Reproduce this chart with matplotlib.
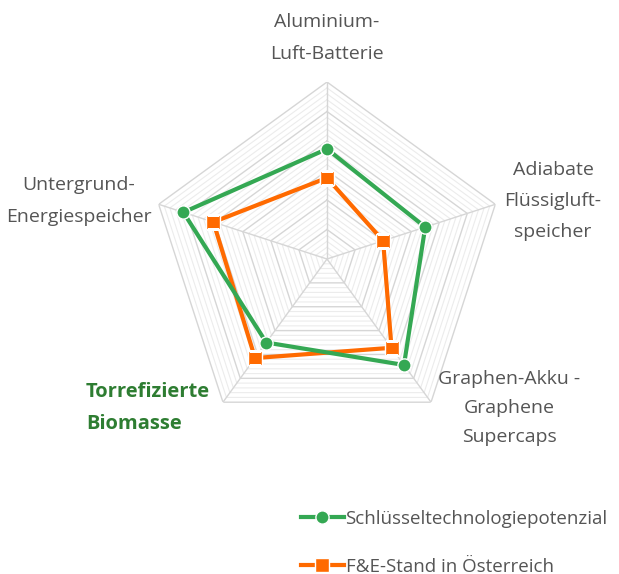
import numpy as np
import matplotlib.pyplot as plt

plt.rcParams["font.family"] = ["Open Sans", "DejaVu Sans"]

# axes, clockwise from the top
categories = [
    "Aluminium-\nLuft-Batterie",
    "Adiabate\nFlüssigluft-\nspeicher",
    "Graphen-Akku -\nGraphene\nSupercaps",
    "Torrefizierte\nBiomasse",
    "Untergrund-\nEnergiespeicher",
]
series_names = ["Schlüsseltechnologiepotenzial", "F&E-Stand in Österreich"]
potential = [3.73, 3.5, 4.44, 3.5, 5.12]
fe_stand = [2.75, 2.0, 3.72, 4.15, 4.05]
r_max = 6

GREEN = "#34a853"
ORANGE = "#ff6a00"
GREY_TXT = "#555555"

W, H = 619, 574
fig = plt.figure(figsize=(W / 100, H / 100), dpi=100)

# radar centre (327, 259) px, radius 177 px
cx, cy, rad = 327, 259, 177
ax = fig.add_axes([(cx - rad) / W, 1 - (cy + rad) / H, 2 * rad / W, 2 * rad / H],
                  projection="polar")
ax.set_theta_zero_location("N")
ax.set_theta_direction(-1)
ax.set_ylim(0, r_max)
ax.grid(False)
ax.spines["polar"].set_visible(False)
ax.set_xticks([])
ax.set_yticks([])
ax.patch.set_alpha(0)

n = len(categories)
angles = np.linspace(0, 2 * np.pi, n, endpoint=False)
closed = np.append(angles, angles[0])

# minor + major pentagon rings
for r in np.arange(0.2, r_max + 0.01, 0.2):
    major = abs(r - round(r)) < 1e-6
    ax.plot(closed, [r] * (n + 1),
            color="#d6d6d6" if major else "#ececec",
            lw=1.0 if major else 0.8, zorder=1)
for a in angles:
    ax.plot([a, a], [0, r_max], color="#d6d6d6", lw=1.0, zorder=1)

ax.plot(closed, potential + potential[:1], color=GREEN, lw=3, marker="o",
        ms=9.5, mec="white", mew=1, zorder=4, label=series_names[0])
ax.plot(closed, fe_stand + fe_stand[:1], color=ORANGE, lw=3, marker="s",
        ms=10, mec="white", mew=1, zorder=3, label=series_names[1])


def px(x, y):
    return x / W, 1 - y / H


fs = 14
fig.text(*px(327, 38), categories[0], ha="center", va="center", fontsize=fs,
         color=GREY_TXT, linespacing=1.95)
fig.text(*px(553, 201), categories[1], ha="center", va="center", fontsize=fs,
         color=GREY_TXT, linespacing=1.95)
fig.text(*px(509, 408), categories[2], ha="center", va="center", fontsize=fs,
         color=GREY_TXT, linespacing=1.8)
fig.text(*px(86, 408), categories[3], ha="left", va="center", fontsize=14.5,
         color="#2e7d32", fontweight="bold", linespacing=1.75)
fig.text(*px(79, 201), categories[4], ha="center", va="center", fontsize=fs,
         color=GREY_TXT, linespacing=1.95)

leg = fig.legend(loc="upper left", bbox_to_anchor=px(293, 502), frameon=False,
                 fontsize=13.5, handlelength=2.3, handletextpad=0.1,
                 labelspacing=1.6, borderaxespad=0)
for t in leg.get_texts():
    t.set_color(GREY_TXT)

fig.savefig("out.png", dpi=100)
